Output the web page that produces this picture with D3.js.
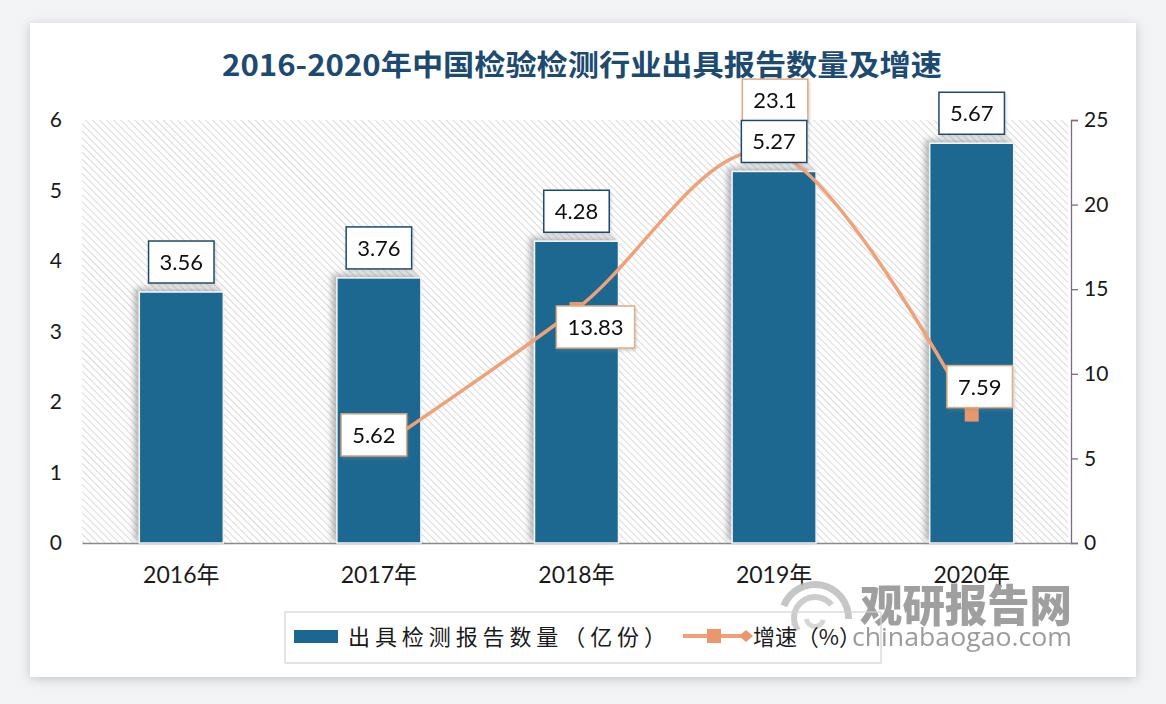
<!DOCTYPE html>
<html><head><meta charset="utf-8">
<script src="https://cdn.jsdelivr.net/npm/d3@7"></script>
<style>
html,body{margin:0;padding:0;background:#f3f4f6;}
svg{display:block;}
</style></head>
<body>
<svg id="chart" width="1166" height="704"></svg>
<script>
// ---- data ----
const categories = ["2016年","2017年","2018年","2019年","2020年"];
const reportCounts = [3.56, 3.76, 4.28, 5.27, 5.67];           // 亿份
const growthRates  = [null, 5.62, 13.83, 23.1, 7.59];           // %
const leftTicks  = [0,1,2,3,4,5,6];
const rightTicks = [0,5,10,15,20,25];
const titleText = "2016-2020年中国检验检测行业出具报告数量及增速";
const legendBarText = "出具检测报告数量（亿份）";
const legendLineText = "增速（%）";

// label offsets (layout) for growth-rate labels, relative to the point
const growthLabelOffsets = [null, [-5,-13], [19,18], [1,-52], [8,-28]];

const svg = d3.select("#chart");
const defs = svg.append("defs");

// card shadow
const fs = defs.append("filter").attr("id","cardShadow").attr("x","-5%").attr("y","-5%").attr("width","110%").attr("height","110%");
fs.append("feDropShadow").attr("dx",0).attr("dy",2).attr("stdDeviation",6).attr("flood-color","#9a9ca3").attr("flood-opacity",0.55);
// bar shadow
const bs = defs.append("filter").attr("id","barShadow").attr("x","-30%").attr("y","-10%").attr("width","160%").attr("height","120%");
bs.append("feDropShadow").attr("dx",-4).attr("dy",-3).attr("stdDeviation",3).attr("flood-color","#777").attr("flood-opacity",0.55);
// label shadow
const ls = defs.append("filter").attr("id","lblShadow").attr("x","-20%").attr("y","-20%").attr("width","140%").attr("height","150%");
ls.append("feDropShadow").attr("dx",1).attr("dy",2).attr("stdDeviation",1.5).attr("flood-color","#888").attr("flood-opacity",0.35);

// hatch pattern (lines running top-left to bottom-right)
const pat = defs.append("pattern").attr("id","hatch").attr("patternUnits","userSpaceOnUse")
  .attr("width",5).attr("height",5).attr("patternTransform","rotate(-45)");
pat.append("rect").attr("width",5).attr("height",5).attr("fill","#ffffff");
pat.append("line").attr("x1",0).attr("y1",0).attr("x2",0).attr("y2",5)
  .attr("stroke","#d4d4d4").attr("stroke-width",1.7);

// card
svg.append("rect").attr("x",30).attr("y",23).attr("width",1106).attr("height",654)
  .attr("fill","#ffffff").attr("filter","url(#cardShadow)");

// title
svg.append("text").attr("x",582).attr("y",76).attr("text-anchor","middle")
  .attr("font-family","'Noto Sans CJK SC'").attr("font-weight","bold").attr("font-size",29)
  .attr("fill","#1c4a70").attr("textLength",720).attr("lengthAdjust","spacingAndGlyphs")
  .text(titleText);

// plot geometry
const plot = {left:82, right:1071, top:120, bottom:543};

const x = d3.scaleBand().domain(categories).range([plot.left, plot.right]).paddingInner(0.575).paddingOuter(0.29);
const yL = d3.scaleLinear().domain([0,6]).range([plot.bottom, plot.top]);
const yR = d3.scaleLinear().domain([0,25]).range([plot.bottom, plot.top]);

// hatched plot area
svg.append("rect").attr("x",plot.left).attr("y",plot.top)
  .attr("width",plot.right-plot.left-3).attr("height",plot.bottom-plot.top)
  .attr("fill","url(#hatch)");

// left axis (labels only)
const gL = svg.append("g").attr("transform",`translate(${plot.left},0)`)
  .call(d3.axisLeft(yL).tickValues(leftTicks).tickSize(0).tickPadding(20).tickFormat(d3.format("d")));
gL.select(".domain").remove();
gL.selectAll("text").attr("font-family","Lato, 'Noto Sans'").attr("font-size",21).attr("fill","#1a1a1a");

// right axis
const gR = svg.append("g").attr("transform",`translate(${plot.right},0)`)
  .call(d3.axisRight(yR).tickValues(rightTicks).tickSize(7).tickPadding(6).tickFormat(d3.format("d")));
gR.select(".domain").attr("stroke","#7b6c82").attr("stroke-width",1.3);
gR.selectAll(".tick line").attr("stroke","#7b6c82").attr("stroke-width",1.3);
gR.selectAll("text").attr("font-family","Lato, 'Noto Sans'").attr("font-size",21).attr("fill","#1a1a1a");

// x axis
const gX = svg.append("g").attr("transform",`translate(0,${plot.bottom})`)
  .call(d3.axisBottom(x).tickSize(0).tickPadding(24));
gX.select(".domain").attr("stroke","#8a8a8a").attr("stroke-width",1.5);
gX.selectAll("text").attr("font-family","Lato, 'Noto Sans CJK SC'").attr("font-size",23).attr("fill","#1a1a1a");

// bars
svg.append("g").selectAll("rect").data(reportCounts).join("rect")
  .attr("x",(d,i)=>x(categories[i]))
  .attr("y",d=>yL(d))
  .attr("width",x.bandwidth())
  .attr("height",d=>yL(0)-yL(d))
  .attr("fill","#1b6791")
  .attr("stroke","#f2f4f6").attr("stroke-width",1.5)
  .attr("filter","url(#barShadow)");

// growth line
const pts = growthRates.map((v,i)=>({v,c:categories[i]})).filter(d=>d.v!==null);
const line = d3.line().x(d=>x(d.c)+x.bandwidth()/2).y(d=>yR(d.v)).curve(d3.curveCardinal.tension(0));
svg.append("path").datum(pts).attr("d",line).attr("fill","none")
  .attr("stroke","#f0a177").attr("stroke-width",3.5);
svg.append("g").selectAll("rect").data(pts).join("rect")
  .attr("x",d=>x(d.c)+x.bandwidth()/2-7).attr("y",d=>yR(d.v)-7)
  .attr("width",14).attr("height",14).attr("fill","#e9976b");

// label box helper
function labelBox(g, cx, cy, txt, stroke){
  const grp = g.append("g").attr("filter","url(#lblShadow)");
  const t = grp.append("text").attr("x",cx).attr("y",cy+8).attr("text-anchor","middle")
    .attr("font-family","Lato, 'Noto Sans'").attr("font-size",22).attr("fill","#111").text(txt);
  const w = t.node().getComputedTextLength()+22;
  const h = 42;
  grp.insert("rect","text").attr("x",cx-w/2).attr("y",cy-h/2).attr("width",w).attr("height",h)
    .attr("fill","#ffffff").attr("stroke",stroke).attr("stroke-width",1.5);
}

const labels = svg.append("g");
// growth labels
pts.forEach(d=>{
  const i = categories.indexOf(d.c);
  const off = growthLabelOffsets[i];
  labelBox(labels, x(d.c)+x.bandwidth()/2+off[0], yR(d.v)+off[1], String(d.v), "#dcae84");
});
// bar labels
reportCounts.forEach((d,i)=>{
  labelBox(labels, x(categories[i])+x.bandwidth()/2, yL(d)-30, d.toFixed(2), "#1c4a70");
});

// watermark
const wm = svg.append("g").attr("opacity",0.85);
const lg = wm.append("g").attr("transform","translate(815,618)").attr("fill","none").attr("stroke","#b7b7b7");
lg.append("path").attr("d",d3.arc()({innerRadius:30,outerRadius:37,startAngle:-1.2,endAngle:1.6})).attr("fill","#bdbdbd").attr("stroke","none");
lg.append("path").attr("d",d3.arc()({innerRadius:18,outerRadius:24,startAngle:-2.2,endAngle:0.9})).attr("fill","#c4c4c4").attr("stroke","none");
lg.append("path").attr("d",d3.arc()({innerRadius:6,outerRadius:11,startAngle:1.8,endAngle:4.6})).attr("fill","#cfcfcf").attr("stroke","none");
wm.append("text").attr("x",860).attr("y",622).attr("font-family","'Noto Sans CJK SC'").attr("font-weight","900")
  .attr("font-size",44).attr("fill","#8f8f8f").attr("textLength",212).attr("lengthAdjust","spacingAndGlyphs").text("观研报告网");
wm.append("text").attr("x",852).attr("y",646).attr("font-family","'Open Sans'").attr("font-size",25)
  .attr("fill","#8a8a8a").attr("textLength",220).attr("lengthAdjust","spacingAndGlyphs").text("chinabaogao.com");

// legend
const lgd = svg.append("g");
lgd.append("rect").attr("x",285).attr("y",612).attr("width",596).attr("height",51)
  .attr("fill","none").attr("stroke","#d2d2d2").attr("stroke-width",1.2);
lgd.append("rect").attr("x",294).attr("y",630).attr("width",44).attr("height",13).attr("fill","#1b6791");
lgd.append("text").attr("x",348).attr("y",645).attr("font-family","'Noto Sans CJK SC'").attr("font-size",22)
  .attr("fill","#1a1a1a").attr("textLength",318).attr("lengthAdjust","spacing").text(legendBarText);
lgd.append("line").attr("x1",683).attr("x2",745).attr("y1",636).attr("y2",636).attr("stroke","#f0a177").attr("stroke-width",4);
lgd.append("rect").attr("x",707).attr("y",629).attr("width",14).attr("height",14).attr("fill","#e9976b");
lgd.append("path").attr("d","M739,636 L746,630 L753,636 L746,642 Z").attr("fill","#e9976b");
lgd.append("text").attr("x",753).attr("y",645).attr("font-family","'Noto Sans CJK SC'").attr("font-size",22)
  .attr("fill","#1a1a1a").attr("textLength",108).attr("lengthAdjust","spacing").text(legendLineText);
</script>
</body></html>
